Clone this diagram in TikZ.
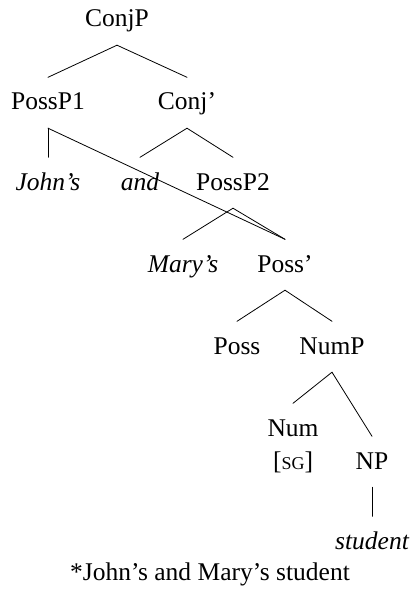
\documentclass[tikz,border=0pt]{standalone}
\usepackage{fontspec}
\setmainfont{Liberation Serif}
\begin{document}
\begin{tikzpicture}[x=1pt,y=-1pt,
  lab/.style={inner sep=0pt, text height=17pt, text depth=0pt, font=\fontsize{25.5}{28}\selectfont},
  br/.style={line width=0.8pt, line cap=round}]
\useasboundingbox (0,0) rectangle (412,596);
\node[lab] (conjp) at (117,18.5) {ConjP};
\node[lab] (possp1) at (48,101.5) {PossP1};
\node[lab] (conjbar) at (187,101.5) {Conj'};
\node[lab] (johns) at (48,181.5) {\itshape John's};
\node[lab] (and) at (140,181.5) {\itshape and};
\node[lab] (possp2) at (233,181.5) {PossP2};
\node[lab] (marys) at (183,263.5) {\itshape Mary's};
\node[lab] (possbar) at (285,263.5) {Poss'};
\node[lab] (poss) at (237,345.5) {Poss};
\node[lab] (nump) at (332,345.5) {NumP};
\node[lab] (num) at (293,427.5) {Num};
\node[lab] (sg) at (293,460.5) {[{\fontsize{18}{20}\selectfont SG}]};
\node[lab] (np) at (372,460.5) {NP};
\node[lab] (student) at (372,540.5) {\itshape student};
\node[lab] (cap) at (210,571.5) {*John's and Mary's student};
\foreach \a/\b in {conjp/possp1, conjp/conjbar, possp1/johns, possp1/possbar,
  conjbar/and, conjbar/possp2, possp2/marys, possp2/possbar, possbar/poss,
  possbar/nump, nump/num, nump/np, np/student}
  \draw[br] ([yshift=-18pt]\a.south) -- ([yshift=15.5pt]\b.north);
\end{tikzpicture}
\end{document}
